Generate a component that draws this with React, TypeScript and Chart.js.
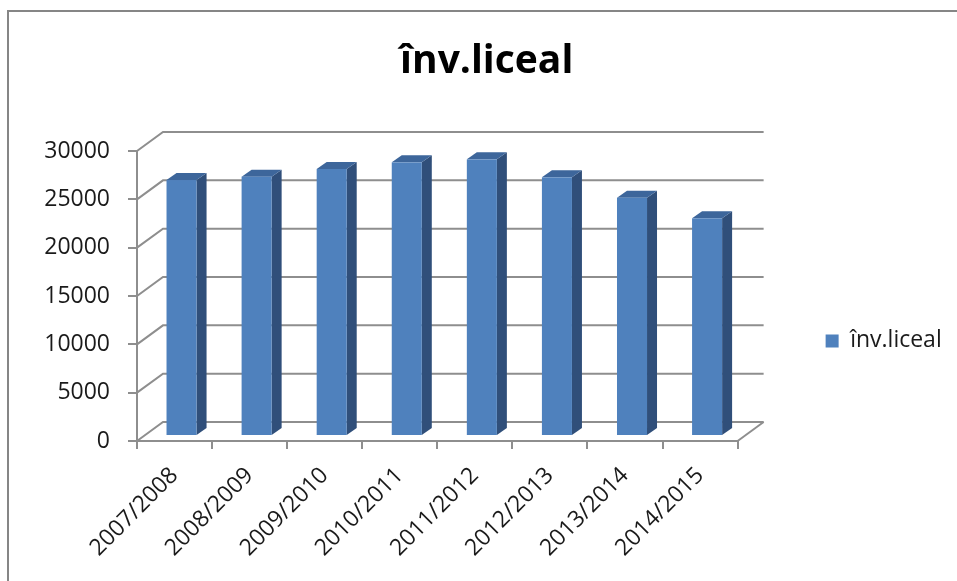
import React, { useEffect, useRef } from "react";
import { Chart, registerables } from "chart.js";

Chart.register(...registerables);

const TITLE = "înv.liceal";
const SERIES_LABEL = "înv.liceal";
const categories = [
  "2007/2008",
  "2008/2009",
  "2009/2010",
  "2010/2011",
  "2011/2012",
  "2012/2013",
  "2013/2014",
  "2014/2015",
];
const values = [26480, 26830, 27620, 28310, 28620, 26760, 24650, 22520];
const yTicks = [0, 5000, 10000, 15000, 20000, 25000, 30000];

const FRONT = "#4f81bd";
const SIDE = "#304f7a";
const TOP = "#3d669b";
const GRID = "#8e8e8e";
const FONT = "'Open Sans', 'Noto Sans', sans-serif";

// 3D depth geometry (pixels)
const DEPTH_X = 26;
const DEPTH_Y = -19;
const BAR_OFF_X = 7;
const BAR_OFF_Y = -5;
const BAR_D_X = 10;
const BAR_D_Y = -7;

const threeD = {
  id: "threeD",
  beforeDraw(chart: any) {
    const ctx = chart.ctx;
    ctx.save();
    ctx.strokeStyle = "#868686";
    ctx.lineWidth = 2;
    ctx.beginPath();
    ctx.moveTo(8, chart.height);
    ctx.lineTo(8, 11);
    ctx.lineTo(chart.width, 11);
    ctx.stroke();
    ctx.restore();
  },
  beforeDatasetsDraw(chart: any) {
    const ctx = chart.ctx;
    const ys = chart.scales.y;
    const { left, right, bottom } = chart.chartArea;
    ctx.save();
    ctx.strokeStyle = GRID;
    ctx.lineWidth = 2;
    ctx.lineJoin = "miter";
    for (const v of yTicks) {
      const py = ys.getPixelForValue(v);
      ctx.beginPath();
      ctx.moveTo(left, py);
      ctx.lineTo(left + DEPTH_X, py + DEPTH_Y);
      ctx.lineTo(right + DEPTH_X, py + DEPTH_Y);
      ctx.stroke();
    }
    // floor right edge
    ctx.beginPath();
    ctx.moveTo(right, bottom);
    ctx.lineTo(right + DEPTH_X, bottom + DEPTH_Y);
    ctx.stroke();
    ctx.restore();
  },
  beforeDatasetDraw() {
    return false;
  },
  afterDatasetsDraw(chart: any) {
    const ctx = chart.ctx;
    const meta = chart.getDatasetMeta(0);
    ctx.save();
    meta.data.forEach((el: any) => {
      const { x, y, base, width } = el.getProps(["x", "y", "base", "width"], true);
      const l = x - width / 2 + BAR_OFF_X;
      const r = x + width / 2 + BAR_OFF_X;
      const t = y + BAR_OFF_Y;
      const b = base + BAR_OFF_Y;
      // side
      ctx.fillStyle = SIDE;
      ctx.beginPath();
      ctx.moveTo(r, t);
      ctx.lineTo(r + BAR_D_X, t + BAR_D_Y);
      ctx.lineTo(r + BAR_D_X, b + BAR_D_Y);
      ctx.lineTo(r, b);
      ctx.closePath();
      ctx.fill();
      // top
      ctx.fillStyle = TOP;
      ctx.beginPath();
      ctx.moveTo(l, t);
      ctx.lineTo(l + BAR_D_X, t + BAR_D_Y);
      ctx.lineTo(r + BAR_D_X, t + BAR_D_Y);
      ctx.lineTo(r, t);
      ctx.closePath();
      ctx.fill();
      // front
      ctx.fillStyle = FRONT;
      ctx.fillRect(l, t, r - l, b - t);
    });
    ctx.restore();
  },
};

export default function App() {
  const ref = useRef<HTMLCanvasElement | null>(null);
  useEffect(() => {
    if (!ref.current) return;
    const chart = new Chart(ref.current, {
      type: "bar",
      data: {
        labels: categories,
        datasets: [
          {
            label: SERIES_LABEL,
            data: values,
            backgroundColor: FRONT,
            borderWidth: 0,
            barPercentage: 0.4,
            categoryPercentage: 1,
          },
        ],
      },
      options: {
        responsive: false,
        devicePixelRatio: 1,
        animation: false,
        events: [],
        layout: { padding: { left: 21.7, right: 5.3, top: 0, bottom: 0 } },
        plugins: {
          tooltip: { enabled: false },
          title: {
            display: true,
            text: TITLE,
            color: "#000",
            font: { family: FONT, size: 39, weight: "bold" },
            padding: { top: 38, bottom: 66.2 },
          },
          legend: {
            position: "right",
            align: "start",
            fullSize: false,
            title: { display: true, text: "", padding: { top: 0, bottom: 76 }, font: { size: 12 } },
            labels: {
              boxWidth: 13,
              boxHeight: 13,
              padding: 88,
              color: "#1a1a1a",
              font: { family: FONT, size: 23 },
            },
          },
        },
        scales: {
          x: {
            afterFit: (s: any) => {
              s.height = 140;
            },
            grid: {
              display: true,
              drawOnChartArea: false,
              drawTicks: true,
              tickLength: 8,
              color: GRID,
              lineWidth: 2,
              offset: true,
            },
            border: { display: true, color: GRID, width: 2 },
            ticks: {
              autoSkip: false,
              minRotation: 45,
              maxRotation: 45,
              padding: 13,
              color: "#1a1a1a",
              font: { family: FONT, size: 23 },
            },
          },
          y: {
            min: 0,
            max: 30000,
            afterFit: (s: any) => {
              s.width = 115.3;
            },
            grid: {
              display: true,
              drawOnChartArea: false,
              drawTicks: true,
              tickLength: 9,
              color: GRID,
              lineWidth: 2,
            },
            border: { display: true, color: GRID, width: 2 },
            ticks: {
              stepSize: 5000,
              padding: 18,
              color: "#1a1a1a",
              font: { family: FONT, size: 23 },
              callback: (v: any) => String(v),
            },
          },
        },
      },
      plugins: [threeD],
    });
    return () => chart.destroy();
  }, []);
  return (
    <div style={{ position: "absolute", left: 0, top: 0, width: 957, height: 581, background: "#fff" }}>
      <canvas ref={ref} width={957} height={581} style={{ display: "block" }} />
    </div>
  );
}
